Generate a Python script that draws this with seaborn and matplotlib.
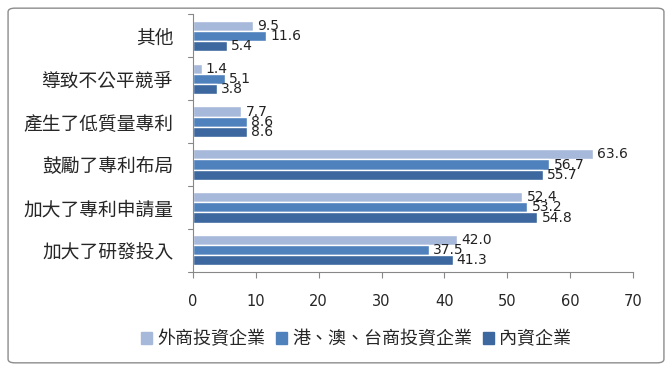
import pandas as pd
import matplotlib
matplotlib.use("Agg")
import matplotlib.pyplot as plt
import seaborn as sns
from matplotlib.patches import FancyBboxPatch, Patch

# Data
categories = ['其他', '導致不公平競爭', '產生了低質量專利', '鼓勵了專利布局', '加大了專利申請量', '加大了研發投入']
series_names = ['外商投資企業', '港、澳、台商投資企業', '內資企業']
foreign = [9.5, 1.4, 7.7, 63.6, 52.4, 42.0]
hk_mo_tw = [11.6, 5.1, 8.6, 56.7, 53.2, 37.5]
domestic = [5.4, 3.8, 8.6, 55.7, 54.8, 41.3]
x_ticks = [0, 10, 20, 30, 40, 50, 60, 70]

colors = ['#A7B9DA', '#4F81BD', '#3C679F']

df = pd.DataFrame({
    'category': categories * 3,
    'series': [series_names[0]] * 6 + [series_names[1]] * 6 + [series_names[2]] * 6,
    'value': foreign + hk_mo_tw + domestic,
})

sns.set_style('white')
plt.rcParams['font.family'] = ['Noto Sans CJK TC', 'DejaVu Sans']
narrow = ['Liberation Sans Narrow', 'DejaVu Sans']

fig = plt.figure(figsize=(6.72, 3.71), dpi=100)
ax = fig.add_axes([0.287, 0.267, 0.655, 0.695])

sns.barplot(data=df, y='category', x='value', hue='series', order=categories,
            hue_order=series_names, palette=colors, orient='h', width=0.7,
            saturation=1, ax=ax, legend=False)

for cont in ax.containers:
    ax.bar_label(cont, fmt='%.1f', padding=3, fontsize=10, color='#222222', family=narrow)

ax.set_xlim(0, 70)
ax.set_xticks(x_ticks)
ax.set_xticklabels([str(t) for t in x_ticks], family=narrow, fontsize=10.5)
ax.set_xlabel('')
ax.set_ylabel('')
ax.tick_params(axis='y', labelsize=13.5, length=0, pad=14)
ax.tick_params(axis='x', length=4, direction='out', color='#888888', bottom=True, pad=12)
# category boundary ticks on left spine
for b in [i + 0.5 for i in range(-1, len(categories))]:
    ax.plot([-0.8, 0], [b, b], color='#888888', lw=0.8, clip_on=False)
ax.set_ylim(len(categories) - 0.5, -0.5)
for s in ['top', 'right']:
    ax.spines[s].set_visible(False)
for s in ['left', 'bottom']:
    ax.spines[s].set_color('#888888')
    ax.spines[s].set_linewidth(0.8)

handles = [Patch(color=c, label=n) for c, n in zip(colors, series_names)]
fig.legend(handles=handles, loc='center', bbox_to_anchor=(0.53, 0.085), ncol=3,
           frameon=False, fontsize=13, handlelength=0.6, handleheight=0.6,
           handletextpad=0.3, columnspacing=0.6)

border = FancyBboxPatch((0.012, 0.022), 0.976, 0.956, boxstyle='round,pad=0,rounding_size=0.01',
                        transform=fig.transFigure, fill=False, edgecolor='#8c8c8c', lw=1.0)
fig.patches.append(border)

fig.savefig('out.png', dpi=100)
